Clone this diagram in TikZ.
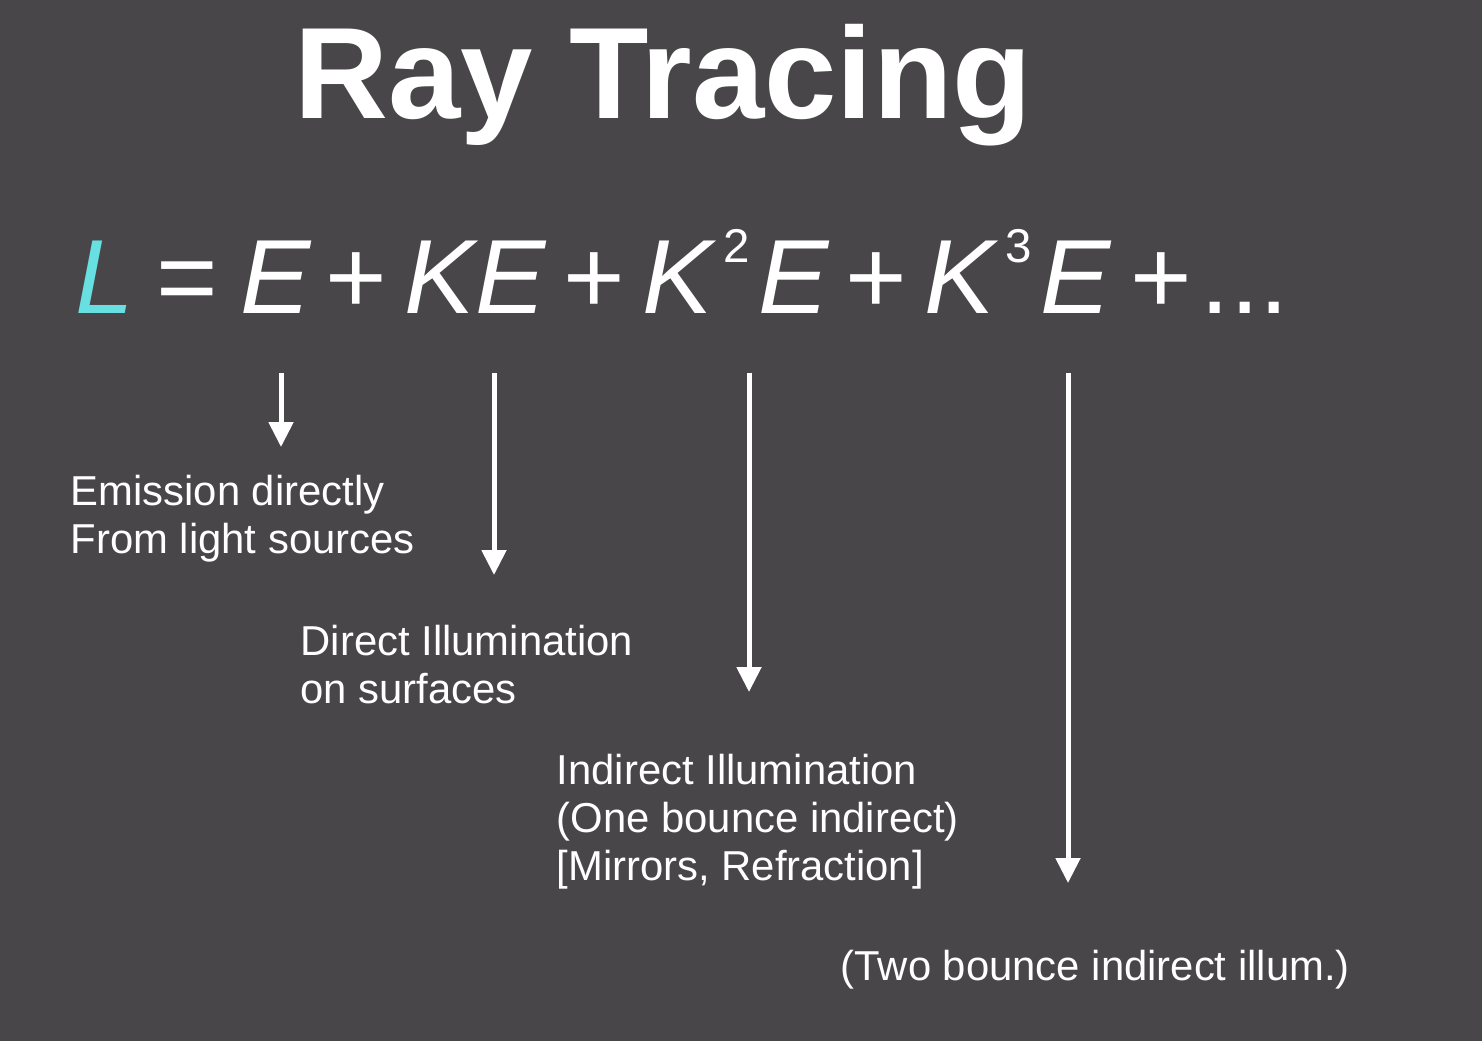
\documentclass[tikz,border=0pt]{standalone}
\usepackage{fontspec}
\setmainfont{Liberation Sans}
\usetikzlibrary{arrows.meta}
\definecolor{slidebg}{RGB}{72,70,73}
\definecolor{litcyan}{RGB}{104,224,226}
\newcommand\upexp[1]{\raisebox{5.1mm}{\fontsize{13.5pt}{14pt}\selectfont\upshape #1}}

\begin{document}
\begin{tikzpicture}[
    every node/.style={inner sep=0pt, text=white},
    term/.style={anchor=base west, font=\fontsize{30pt}{36pt}\selectfont\itshape},
    op/.style={anchor=base west, font=\fontsize{30pt}{36pt}\selectfont},
    note/.style={anchor=base west, align=left, font=\fontsize{11.9pt}{13.66pt}\selectfont},
    ray/.style={white, line width=0.5mm, -{Triangle[width=2.4mm,length=2.5mm]}}
  ]
                \fill[slidebg] (0,0) rectangle (14.82,-10.41);
                \useasboundingbox (0,0) rectangle (14.82,-10.41);
                \node[anchor=base west, font=\fontsize{37pt}{44pt}\selectfont\bfseries] (T) at (2.94,-1.18) {Ray Tracing};
                % the series
                \node[term, text=litcyan] (L) at (0.75,-3.13) {L};
                \node[op] (Q) at (1.56,-3.13) {=};
                \node[term] (E) at (2.40,-3.13) {E};
                \node[op] (P1) at (3.25,-3.13) {+};
                \node[term] (KE) at (4.04,-3.13) {KE};
                \node[op] (P2) at (5.63,-3.13) {+};
                \node[term] (KKE) at (6.42,-3.13) {K\kern1.0mm\upexp{2}\kern0.9mm E};
                \node[op] (P3) at (8.45,-3.13) {+};
                \node[term] (KKKE) at (9.24,-3.13) {K\kern1.0mm\upexp{3}\kern0.9mm E};
                \node[op] (P4) at (11.30,-3.13) {+};
                \node[op] (D) at (12.0,-3.13) {...};
                % what each term means (base = last line)
                \node[note] (N1) at (0.70,-5.53) {Emission directly\\From light sources};
                \node[note] (N2) at (3.00,-7.03) {Direct Illumination\\on surfaces};
                \node[note] (N3) at (5.56,-8.80) {Indirect Illumination\\(One bounce indirect)\\{[}Mirrors, Refraction{]}};
                \node[note] (N4) at (8.40,-9.80) {(Two bounce indirect illum.)};
                \coordinate (s1) at (2.81,-3.73);
                \coordinate (t1) at (2.81,-4.47);
                \coordinate (s2) at (4.94,-3.73);
                \coordinate (t2) at (4.94,-5.75);
                \coordinate (s3) at (7.49,-3.73);
                \coordinate (t3) at (7.49,-6.92);
                \coordinate (s4) at (10.68,-3.73);
                \coordinate (t4) at (10.68,-8.83);
                \draw [ray] (s1) -- (t1);
                \draw [ray] (s2) -- (t2);
                \draw [ray] (s3) -- (t3);
                \draw [ray] (s4) -- (t4);
            \end{tikzpicture}
\end{document}
